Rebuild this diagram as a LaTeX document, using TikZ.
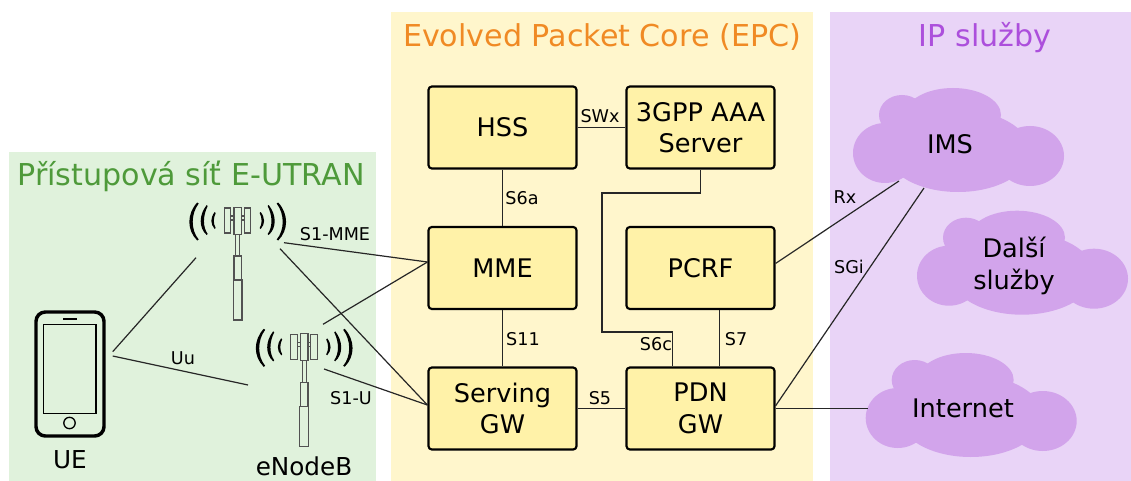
\documentclass[tikz,border=0pt]{standalone}
\usepackage{fontspec}
\setmainfont{DejaVu Sans}
\definecolor{pgreen}{HTML}{E0F2DC}
\definecolor{pyellow}{HTML}{FFF6CC}
\definecolor{ppurple}{HTML}{E9D4F7}
\definecolor{boxfill}{HTML}{FFF2A8}
\definecolor{cloudfill}{HTML}{D2A4EB}
\definecolor{tgreen}{HTML}{4E9A3A}
\definecolor{torange}{HTML}{F08A24}
\definecolor{tpurple}{HTML}{AC4FDC}
\tikzset{
  x=0.75pt,y=-0.75pt,
  elem/.style={draw=black,line width=1.6pt,fill=boxfill,rounded corners=2.5pt,minimum width=111pt,minimum height=61.5pt,inner sep=0pt,align=center,font=\fontsize{19.2}{23.5}\selectfont},
  conn/.style={draw=black!85,line width=0.9pt},
  lab/.style={font=\fontsize{13.2}{15}\selectfont,inner sep=0pt},
  big/.style={font=\fontsize{19.2}{24}\selectfont,inner sep=0pt,align=center},
  head/.style={font=\fontsize{22.6}{26}\selectfont,inner sep=0pt},
  tower/.style={draw=black!68,line width=0.9pt,fill=none},
}
\newcommand{\antenna}[2]{%
\begin{scope}[shift={(#1,#2)}]
  \draw[tower] (-13.5,-14) rectangle (-7,11);
  \draw[tower] (6.5,-14) rectangle (13,11);
  \draw[tower] (-7,-6) -- (6.5,-6) (-7,-2) -- (6.5,-2);
  \draw[tower,fill=pgreen] (-3.7,-14.5) rectangle (3.7,12.5);
  \draw[tower] (-2,12.5) rectangle (2,34);
  \draw[tower] (-3.7,34) rectangle (3.7,58);
  \draw[tower] (-4.5,58) rectangle (4.2,98);
  \foreach \s in {-1,1}{
  \begin{scope}[xscale=\s]
    \fill[black] (40.5,-19.5) .. controls (51,-8) and (51,8) .. (40.5,18.5) -- (39,17.5) .. controls (47,8) and (47,-8) .. (39,-18.5) -- cycle;
    \fill[black] (31,-17) .. controls (39,-7) and (39,6) .. (31,13) -- (30,12) .. controls (35,5) and (35,-6) .. (30,-16) -- cycle;
    \fill[black] (23,-10) .. controls (27.5,-4) and (27.5,2) .. (23,7) -- (22,6) .. controls (24.5,2) and (24.5,-4) .. (22,-9) -- cycle;
  \end{scope}}
\end{scope}}
\newcommand{\cloud}[2]{%
\begin{scope}[shift={(#1,#2)}]
  \fill[cloudfill] (885,153) ellipse [x radius=32,y radius=30];
  \fill[cloudfill] (902,115) ellipse [x radius=23,y radius=20];
  \fill[cloudfill] (953,115) ellipse [x radius=48,y radius=27];
  \fill[cloudfill] (958,151) ellipse [x radius=72,y radius=41];
  \fill[cloudfill] (1030,156) ellipse [x radius=34,y radius=30];
\end{scope}}
\begin{document}
\begin{tikzpicture}
\useasboundingbox (0,0) rectangle (1131,481);
\fill[white] (0,0) rectangle (1131,481);
\fill[pgreen] (9,152) rectangle (376,481);
\fill[pyellow] (391,12) rectangle (813,481);
\fill[ppurple] (830,12) rectangle (1131,481);

\node[head,text=tgreen] (tacc) at (191,176) {Přístupová síť E-UTRAN};
\node[head,text=torange] (tepc) at (602,37) {Evolved Packet Core (EPC)};
\node[head,text=tpurple] (tip) at (985,38) {IP služby};

\cloud{0}{0}
\cloud{64}{122.7}
\cloud{12.7}{265}
\node[big] (ims) at (950,144) {IMS};
\node[big] (dalsi) at (1014,266) {Další\\služby};
\node[big] (inet) at (963,408) {Internet};

\antenna{237.7}{222}
\antenna{304.2}{348.3}

% phone
\draw[black,line width=2.6pt,rounded corners=7pt,fill=none] (36,312) rectangle (104,436);
\draw[black,line width=1pt] (43.5,324.5) rectangle (96,413.5);
\draw[black,line width=1pt] (63,319) -- (77,319);
\draw[black,line width=1pt] (69.5,423) circle [radius=5.7];

\node[big,font=\fontsize{18.5}{22}\selectfont] (ue) at (70,460) {UE};
\node[big,font=\fontsize{18.5}{22}\selectfont] (enb) at (304,466) {eNodeB};

\node[elem] (hss) at (502.5,127.5) {HSS};
\node[elem] (aaa) at (700.5,127.5) {3GPP AAA\\Server};
\node[elem] (mme) at (502.5,268) {MME};
\node[elem] (pcrf) at (700.5,268) {PCRF};
\node[elem] (sgw) at (502.5,408.5) {Serving\\GW};
\node[elem] (pgw) at (700.5,408.5) {PDN\\GW};

\coordinate (ueA) at (112.7,351.7);
\coordinate (ueB) at (112.7,356);
\coordinate (enbA1) at (196,257.7);
\coordinate (enbB1) at (248,385);
\coordinate (a1s) at (284,242.7);
\coordinate (a1u) at (280,248.7);
\coordinate (a2s) at (323,324.3);
\coordinate (a2u) at (324,369);

\draw[conn] (ueA) -- (enbA1);
\draw[conn] (ueB) -- (enbB1);
\draw[conn] (a1s) -- ([yshift=4.5pt]mme.west);
\draw[conn] (a2s) -- ([yshift=4.5pt]mme.west);
\draw[conn] (a1u) -- ([yshift=2.6pt]sgw.west);
\draw[conn] (a2u) -- ([yshift=2.6pt]sgw.west);
\draw[conn] (hss) -- (aaa);
\draw[conn] (hss) -- (mme);
\draw[conn] (mme) -- (sgw);
\draw[conn] (sgw) -- (pgw);
\draw[conn] ([xshift=14pt]pcrf.south) -- ([xshift=14pt]pgw.north);
\coordinate (k1) at (602,193);
\coordinate (k2) at (602,332);
\draw[conn] (aaa.south) |- (k1) -- (k2) -| ([xshift=-21pt]pgw.north);
\coordinate (imsA) at (899,181);
\coordinate (imsB) at (924,188);
\coordinate (inetE) at (868,408.5);
\draw[conn] ([yshift=3.4pt]pcrf.east) -- (imsA);
\draw[conn] ([yshift=2pt]pgw.east) -- (imsB);
\draw[conn] (pgw.east) -- (inetE);

\node[lab] (lswx) at (600,116) {SWx};
\node[lab] (ls6a) at (522,198) {S6a};
\node[lab] (ls11) at (523,339) {S11};
\node[lab] (ls5) at (600,398) {S5};
\node[lab] (ls7) at (736,339) {S7};
\node[lab] (ls6c) at (656,344) {S6c};
\node[lab] (lrx) at (845,197) {Rx};
\node[lab] (lsgi) at (849,267) {SGi};
\node[lab] (ls1m) at (335,234) {S1-MME};
\node[lab] (ls1u) at (351,398) {S1-U};
\node[lab] (luu) at (183,358) {Uu};
\end{tikzpicture}
\end{document}
